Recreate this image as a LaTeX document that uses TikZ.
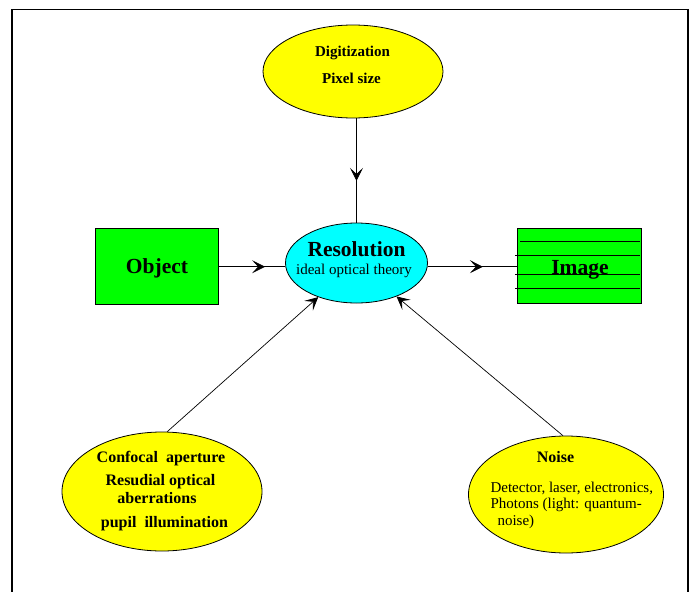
\documentclass[tikz,border=0pt]{standalone}
\usepackage{fontspec}
\setmainfont{Liberation Serif}
\usetikzlibrary{arrows.meta,shapes.geometric,decorations.markings}
\definecolor{ellyellow}{HTML}{FFFF00}
\definecolor{rescyan}{HTML}{00FFFF}
\definecolor{boxgreen}{HTML}{00FF00}
\begin{document}
\begin{tikzpicture}[x=1pt,y=-1pt,
  ell/.style={ellipse,draw=black,line width=0.8pt,inner sep=0pt},
  boxnode/.style={rectangle,draw=black,line width=0.8pt,fill=boxgreen,inner sep=0pt},
  conn/.style={line width=0.7pt},
  arrowtip/.style={-{Stealth[length=13pt,width=13pt,inset=6pt]}},
  midarrow/.style={postaction={decorate},decoration={markings,mark=at position #1 with {\arrow{Stealth[length=13pt,width=13pt,inset=6pt]}}}},
  bigb/.style={font=\fontsize{21.5}{24}\selectfont\bfseries},
  medb/.style={font=\fontsize{15}{18}\selectfont\bfseries},
  largeb/.style={font=\fontsize{16}{19}\selectfont\bfseries},
  reg/.style={font=\fontsize{15}{18}\selectfont}
]
\useasboundingbox (0,0) rectangle (694,592);
% frame
\draw[line width=1.5pt] (12,592) -- (12,9.5) -- (688,9.5) -- (688,592);

% shapes
\node[ell,fill=ellyellow,minimum width=180pt,minimum height=93pt] (dig) at (353,71.5) {};
\node[ell,fill=rescyan,minimum width=142pt,minimum height=80pt] (res) at (356.5,263) {};
\node[boxnode,minimum width=123pt,minimum height=76pt] (obj) at (156.5,266.5) {};
\node[boxnode,minimum width=124pt,minimum height=75pt] (img) at (579,265.5) {};
\node[ell,fill=ellyellow,minimum width=200pt,minimum height=119pt] (bl) at (162,491.5) {};
\node[ell,fill=ellyellow,minimum width=195pt,minimum height=117pt] (nz) at (566,494.5) {};

% texts
\node[medb,anchor=base] (tdig) at (352.5,56.7) {Digitization};
\node[medb,anchor=base] (tpix) at (351.5,83.3) {Pixel size};
\node[bigb,anchor=base] (tres) at (356.5,256.8) {Resolution};
\node[reg,anchor=base] (tideal) at (354,274) {ideal optical theory};
\node[bigb,anchor=base] (tobj) at (157,273.5) {Object};
\node[bigb,anchor=base] (timg) at (580,274.5) {Image};
\node[largeb,anchor=base] (tconf) at (161,462) {Confocal\ \ aperture};
\node[largeb,anchor=base] (tresu) at (160.5,485.7) {Resudial optical};
\node[largeb,anchor=base] (taber) at (157,503) {aberrations};
\node[largeb,anchor=base] (tpup) at (164.5,527) {pupil\ \ illumination};
\node[largeb,anchor=base] (tnoise) at (555.5,462.7) {Noise};
\node[reg,anchor=base west] (tdet) at (487,492.7) {Detector, laser, electronics,};
\node[reg,anchor=base west] (tpho) at (487,508.3) {Photons (light: quantum-};
\node[reg,anchor=base west] (tnz) at (494,525) {noise)};

% lines across the image box
\draw[conn] (520,241) -- (640,241);
\draw[conn] (515,255) -- (640,255);
\draw[conn] (515,274) -- (640,274);
\draw[conn] (515,288) -- (640,288);

% connectors
\draw[conn,midarrow=0.6] (dig.south -| res.north) -- (res.north);
\draw[conn,midarrow=0.7] (obj.east |- 0,266.7) coordinate (oe) -- (oe -| res.west);
\draw[conn,midarrow=0.62] (res.east |- 0,266.7) coordinate (re) -- (re -| img.west);
\draw[conn,arrowtip] (bl.85) -- (res);
\draw[conn,arrowtip] (nz.93) -- (res);
\end{tikzpicture}
\end{document}
